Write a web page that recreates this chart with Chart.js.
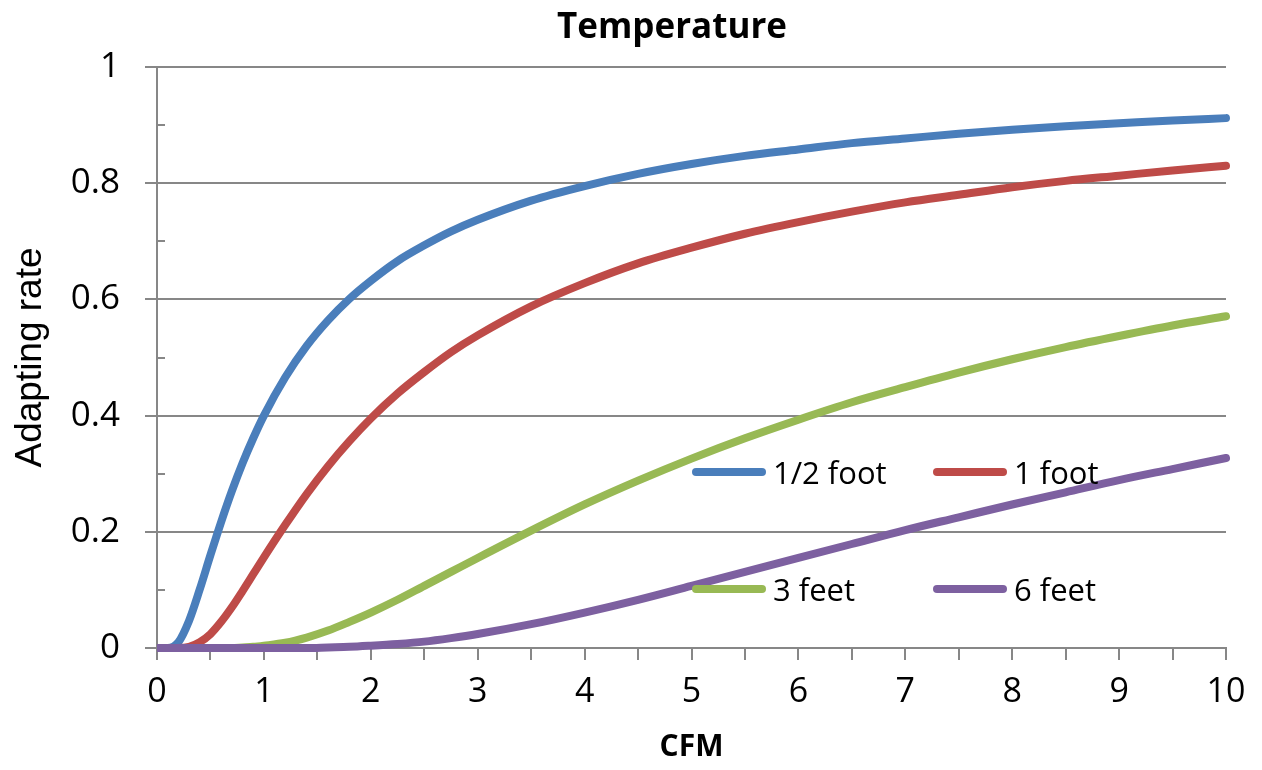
<!DOCTYPE html>
<html>
<head>
  <title>Temperature</title>
  <script src="https://cdn.jsdelivr.net/npm/chart.js@4.4.0/dist/chart.umd.min.js"></script>
  <style>
    * { margin: 0; padding: 0; box-sizing: border-box; }
    body { background: #fff; width: 1262px; height: 770px; overflow: hidden; }
    .wrap { position: relative; width: 1262px; height: 770px; }
    .title { position: absolute; left: 472px; width: 400px; top: 2px; text-align: center; font-family: 'Open Sans', sans-serif; font-weight: bold; font-size: 35px; line-height: 46px; color: #000; }
    .legend { position: absolute; left: 692px; top: 444px; display: grid; grid-template-columns: 241px 241px; grid-auto-rows: 117px; }
    .item { display: flex; align-items: center; height: 56px; font-family: 'Open Sans', sans-serif; font-size: 31px; color: #000; }
    .swatch { width: 74px; height: 8px; border-radius: 4px; margin-right: 7px; }
  </style>
</head>
<body>
  <div class="wrap">
    <canvas id="tempChart" width="1262" height="770"></canvas>
    <div class="title">Temperature</div>
    <div class="legend" id="legend"></div>
  </div>

  <script>
    // air flow (CFM) sample points
    const cfm = [0, 0.1, 0.2, 0.3, 0.4, 0.5, 0.6, 0.7, 0.8, 0.9, 1, 1.2, 1.4, 1.6, 1.8, 2,
      2.25, 2.5, 2.75, 3, 3.5, 4, 4.5, 5, 5.5, 6, 6.5, 7, 7.5, 8, 8.5, 9, 9.5, 10];

    // adapting rate per sensor distance
    const halfFoot = [0, 0, 0.010, 0.047, 0.101, 0.160, 0.217, 0.270, 0.318, 0.361, 0.400, 0.466, 0.520, 0.564, 0.601, 0.632,
      0.666, 0.693, 0.717, 0.737, 0.770, 0.795, 0.816, 0.833, 0.847, 0.858, 0.869, 0.877, 0.885, 0.892, 0.898, 0.903, 0.908, 0.912];
    const oneFoot = [0, 0, 0, 0.002, 0.010, 0.024, 0.045, 0.070, 0.098, 0.127, 0.156, 0.212, 0.265, 0.313, 0.356, 0.395,
      0.438, 0.475, 0.509, 0.538, 0.588, 0.628, 0.662, 0.689, 0.713, 0.733, 0.751, 0.767, 0.780, 0.793, 0.804, 0.813, 0.822, 0.830];
    const threeFeet = [0, 0, 0, 0, 0, 0, 0, 0, 0.001, 0.002, 0.004, 0.009, 0.018, 0.030, 0.045, 0.061,
      0.083, 0.107, 0.131, 0.155, 0.202, 0.247, 0.288, 0.326, 0.361, 0.393, 0.423, 0.449, 0.474, 0.497, 0.518, 0.537, 0.555, 0.571];
    const sixFeet = [0, 0, 0, 0, 0, 0, 0, 0, 0, 0, 0, 0, 0, 0.001, 0.002, 0.004,
      0.007, 0.011, 0.017, 0.024, 0.041, 0.061, 0.083, 0.107, 0.131, 0.155, 0.179, 0.203, 0.225, 0.247, 0.268, 0.289, 0.308, 0.327];

    const seriesNames = ['1/2 foot', '1 foot', '3 feet', '6 feet'];
    const seriesValues = [halfFoot, oneFoot, threeFeet, sixFeet];
    const seriesColors = ['#4a7ebb', '#be4b48', '#98b954', '#7d60a0'];

    const gridGray = '#878787';

    // legend (2 x 2, sits inside the plot)
    const legendEl = document.getElementById('legend');
    seriesNames.forEach((name, i) => {
      const item = document.createElement('div');
      item.className = 'item';
      item.innerHTML = `<span class="swatch" style="background:${seriesColors[i]}"></span><span>${name}</span>`;
      legendEl.appendChild(item);
    });

    // short inside ticks on the y axis at the odd tenths
    const minorTicks = {
      id: 'minorTicks',
      beforeDatasetsDraw(chart) {
        const { ctx, scales: { x, y } } = chart;
        ctx.save();
        ctx.strokeStyle = gridGray;
        ctx.lineWidth = 2;
        for (let v = 0.1; v < 1; v += 0.2) {
          const py = Math.round(y.getPixelForValue(v));
          ctx.beginPath();
          ctx.moveTo(x.left, py);
          ctx.lineTo(x.left + 8, py);
          ctx.stroke();
        }
        ctx.restore();
      }
    };

    const ctx = document.getElementById('tempChart').getContext('2d');
    new Chart(ctx, {
      type: 'line',
      data: {
        datasets: seriesNames.map((name, i) => ({
          label: name,
          data: cfm.map((c, j) => ({ x: c, y: seriesValues[i][j] })),
          borderColor: seriesColors[i],
          backgroundColor: seriesColors[i],
          borderWidth: 8,
          borderCapStyle: 'round',
          pointRadius: 0,
          cubicInterpolationMode: 'monotone',
          order: seriesNames.length - 1 - i,
          clip: { left: 0, top: 10, right: 10, bottom: 10 }
        }))
      },
      options: {
        responsive: false,
        animation: false,
        layout: { padding: { left: 0, right: 36, top: 67, bottom: 0 } },
        plugins: {
          legend: { display: false },
          tooltip: { enabled: false },
          title: { display: false }
        },
        scales: {
          x: {
            type: 'linear',
            min: 0,
            max: 10,
            afterFit: s => { s.height = 122; },
            ticks: {
              stepSize: 0.5,
              autoSkip: false,
              maxRotation: 0,
              padding: 12,
              color: '#000',
              font: { family: 'Open Sans', size: 34 },
              callback: v => Number.isInteger(v) ? String(v) : ''
            },
            grid: { drawOnChartArea: false, color: gridGray, lineWidth: 2, tickLength: 12 },
            border: { color: gridGray, width: 2 },
            title: {
              display: true,
              text: 'CFM',
              color: '#000',
              font: { family: 'Open Sans', size: 30, weight: 'bold' },
              padding: { top: 0, bottom: 5 }
            }
          },
          y: {
            min: 0,
            max: 1,
            afterFit: s => { s.width = 157; },
            ticks: {
              stepSize: 0.2,
              padding: 25,
              color: '#000',
              font: { family: 'Open Sans', size: 35 },
              callback: v => String(Number(v.toFixed(1)))
            },
            grid: { color: gridGray, lineWidth: 2, tickLength: 12 },
            border: { color: gridGray, width: 2 },
            title: {
              display: true,
              text: 'Adapting rate',
              color: '#000',
              font: { family: 'Liberation Sans', size: 37 },
              padding: { top: 9, bottom: 0 }
            }
          }
        }
      },
      plugins: [minorTicks]
    });
  </script>
</body>
</html>
